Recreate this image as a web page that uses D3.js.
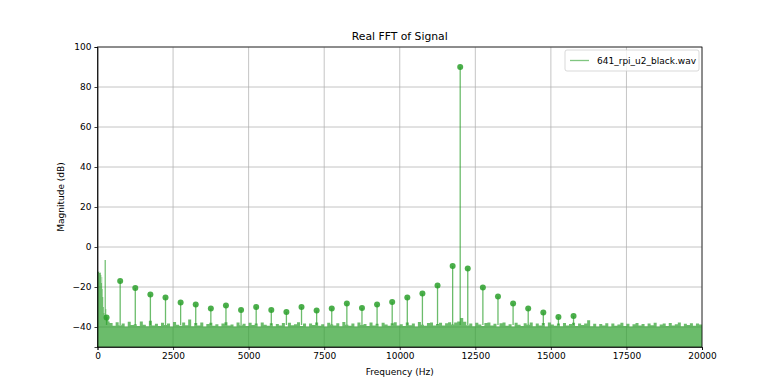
<!DOCTYPE html>
<html>
<head>
<meta charset="utf-8">
<script src="https://cdn.jsdelivr.net/npm/d3@7"></script>
<style>
    body { margin: 0; background: #fff; }
    text { font-family: "DejaVu Sans", sans-serif; fill: #000; }
    .axis path, .axis line { stroke: #000; stroke-width: 0.75; }
    .axis text { font-size: 9px; }
    .grid line { stroke: #b0b0b0; stroke-width: 0.75; }
</style>
</head>
<body>
<div id="chart"></div>
<script>
// low frequency part of the spectrum (Hz, dB)
var lowHz = [0, 30, 60, 90, 110, 125, 140, 155, 170, 190, 210, 225, 235, 275, 290, 310, 335, 360];
var lowDb = [-12.5, -12.3, -13.0, -12.7, -14, -18, -15, -21, -25, -30, -33, -34, -6.5, -31, -34, -35, -36.5, -37.2];

// noise floor from 400 Hz to 20000 Hz, every 100 Hz
var noiseStart = 400, noiseStep = 100;
var noiseDb = [
    -38.0, -39.4, -37.6, -39.1, -38.3, -39.7, -37.4, -39.0, -38.6, -39.5, -37.2, -38.9, -39.6, -36.9, -39.2, -38.4,
    -39.5, -37.9, -39.0, -38.2, -39.7, -37.5, -38.9, -39.4, -37.8, -39.1, -36.2, -39.6, -38.0, -39.3, -37.7, -39.8, -38.5, -37.9, -39.4, -38.6,
    -39.6, -38.2, -37.6, -39.3, -38.7, -39.8, -37.8, -39.1, -38.4, -39.5, -37.9, -39.0, -38.3, -39.7, -37.7, -38.9, -39.4, -38.1, -39.6, -38.5,
    -39.2, -38.0, -39.7, -37.9, -39.1, -38.6, -37.6, -39.5, -38.3, -39.8, -38.2, -39.0, -37.8, -39.4, -38.6, -39.7, -37.9, -38.8, -39.3, -38.1,
    -39.6, -37.5, -38.9, -39.4, -38.2, -39.7, -37.8, -39.0, -38.5, -39.5, -37.7, -39.2, -38.4, -39.8, -37.9, -38.7, -39.4, -38.1, -37.6, -39.3,
    -38.6, -39.5, -37.8, -39.1, -38.3, -39.7, -37.5, -38.9, -39.4, -38.0, -37.7, -39.2, -38.5, -37.9, -39.3, -38.1, -37.6, -38.8, -37.8, -37.2,
    -35.5, -37.4, -39.1, -38.2, -39.6, -37.9, -38.8, -39.5, -38.0, -37.7, -39.3, -38.4, -39.7, -38.1, -37.8, -39.4, -38.6, -39.8, -37.9, -38.9,
    -39.5, -38.1, -38.9, -37.8, -39.6, -38.3, -39.2, -38.0, -39.7, -37.7, -38.8, -39.4, -38.2, -39.6, -38.0, -39.3, -38.5, -37.9, -39.5, -38.3,
    -39.0, -38.2, -36.6, -39.6, -38.4, -39.8, -38.5, -39.3, -38.1, -39.7, -38.3, -39.4, -38.7, -37.9, -39.5, -38.4, -39.8, -38.6, -38.0, -39.2,
    -38.5, -39.6, -38.2, -39.1, -37.9, -39.7, -38.8, -38.3, -39.5, -38.0, -39.3, -38.6, -37.8, -39.6, -38.4, -39.0, -38.1, -39.4, -38.3, -38.7,
    -38.4
];

// detected peaks
var peakHz = [300, 750, 1250, 1750, 2250, 2750, 3250, 3750, 4250, 4750, 5250, 5750, 6250, 6750, 7250, 7750,
    8250, 8750, 9250, 9750, 10250, 10750, 11250, 11750, 12000, 12250, 12750, 13250, 13750, 14250, 14750, 15250, 15750];
var peakDb = [-35.3, -17, -20.5, -23.7, -25.3, -27.8, -28.7, -30.8, -29.2, -31.5, -30, -31.5, -32.5, -30, -31.8, -30.8,
    -28.3, -30.5, -28.8, -27.5, -25.2, -23.3, -19.3, -9.5, 90, -10.7, -20.2, -24.8, -28.3, -30.7, -32.8, -35, -34.5];

var xTicks = [0, 2500, 5000, 7500, 10000, 12500, 15000, 17500, 20000];
var yTicks = [-40, -20, 0, 20, 40, 60, 80, 100];
var seriesName = "641_rpi_u2_black.wav";

function drawFFT(divName) {
    var margin = {top: 47, right: 78, bottom: 43, left: 97.5}
        , width = 780 - margin.left - margin.right
        , height = 390 - margin.top - margin.bottom;

    var green = "#2ca02c";

    var spectrum = lowHz.map(function (f, i) {
        return {hz: f, db: lowDb[i]};
    });
    noiseDb.forEach(function (v, i) {
        spectrum.push({hz: noiseStart + i * noiseStep, db: v});
    });

    var peaks = peakHz.map(function (f, i) {
        return {hz: f, db: peakDb[i]};
    });

    var x = d3.scaleLinear().domain([0, 20000]).range([0, width]);
    var y = d3.scaleLinear().domain([-50, 100]).range([height, 0]);

    var chart = d3.select('#' + divName)
        .append('svg')
        .attr('width', 780)
        .attr('height', 390);

    var main = chart.append('g')
        .attr('transform', 'translate(' + margin.left + ',' + margin.top + ')');

    // grid
    main.append("g").attr("class", "grid")
        .selectAll("line").data(xTicks).enter().append("line")
        .attr("x1", function (d) { return x(d); })
        .attr("x2", function (d) { return x(d); })
        .attr("y1", 0).attr("y2", height);
    main.append("g").attr("class", "grid")
        .selectAll("line").data(yTicks).enter().append("line")
        .attr("y1", function (d) { return y(d); })
        .attr("y2", function (d) { return y(d); })
        .attr("x1", 0).attr("x2", width);

    var g = main.append("g");

    // filled spectrum
    var area = d3.area()
        .curve(d3.curveStepAfter)
        .x(function (d) { return x(d.hz); })
        .y0(height)
        .y1(function (d) { return y(d.db); });

    g.append("path")
        .datum(spectrum)
        .attr("d", area)
        .style("fill", green)
        .style("fill-opacity", 0.7);

    // stems up to each peak
    g.selectAll(".stem")
        .data(peaks)
        .enter().append("line")
        .attr("class", "stem")
        .attr("x1", function (d) { return x(d.hz); })
        .attr("x2", function (d) { return x(d.hz); })
        .attr("y1", y(-39))
        .attr("y2", function (d) { return y(d.db); })
        .style("stroke", green)
        .style("stroke-opacity", 0.7)
        .attr("stroke-width", 1.3);

    g.selectAll(".dot")
        .data(peaks)
        .enter().append("circle")
        .attr("class", "dot")
        .attr("cx", function (d) { return x(d.hz); })
        .attr("cy", function (d) { return y(d.db); })
        .attr("r", 3)
        .style("fill", green)
        .style("fill-opacity", 0.85);

    // axes
    main.append("g")
        .attr("class", "axis")
        .attr("transform", "translate(0," + height + ")")
        .call(d3.axisBottom(x).tickValues(xTicks).tickSize(3).tickPadding(3).tickFormat(d3.format("d")));

    main.append("g")
        .attr("class", "axis")
        .call(d3.axisLeft(y).tickValues(yTicks).tickSize(3).tickPadding(3).tickFormat(function (d) {
            return d < 0 ? "\u2212" + Math.abs(d) : d;
        }));

    main.append("rect")
        .attr("width", width)
        .attr("height", height)
        .style("fill", "none")
        .style("stroke", "#000")
        .attr("stroke-width", 0.75);

    // labels
    main.append("text")
        .attr("x", width / 2)
        .attr("y", -7)
        .attr("text-anchor", "middle")
        .style("font-size", "10.8px")
        .text("Real FFT of Signal");

    main.append("text")
        .attr("x", width / 2)
        .attr("y", height + 28)
        .attr("text-anchor", "middle")
        .style("font-size", "9px")
        .text("Frequency (Hz)");

    main.append("text")
        .attr("transform", "rotate(-90)")
        .attr("x", -height / 2)
        .attr("y", -34)
        .attr("text-anchor", "middle")
        .style("font-size", "9px")
        .text("Magnitude (dB)");

    // legend
    var legend = main.append("g")
        .attr("transform", "translate(" + (width - 137) + ",3)");
    legend.append("rect")
        .attr("width", 134)
        .attr("height", 21)
        .attr("rx", 2)
        .style("fill", "#fff")
        .style("fill-opacity", 0.8)
        .style("stroke", "#cccccc")
        .attr("stroke-width", 0.75);
    legend.append("line")
        .attr("x1", 5).attr("x2", 24)
        .attr("y1", 10.5).attr("y2", 10.5)
        .style("stroke", green)
        .style("stroke-opacity", 0.6)
        .attr("stroke-width", 1.3);
    legend.append("text")
        .attr("x", 32)
        .attr("y", 14)
        .style("font-size", "9px")
        .text(seriesName);
}

drawFFT("chart");
</script>
</body>
</html>
